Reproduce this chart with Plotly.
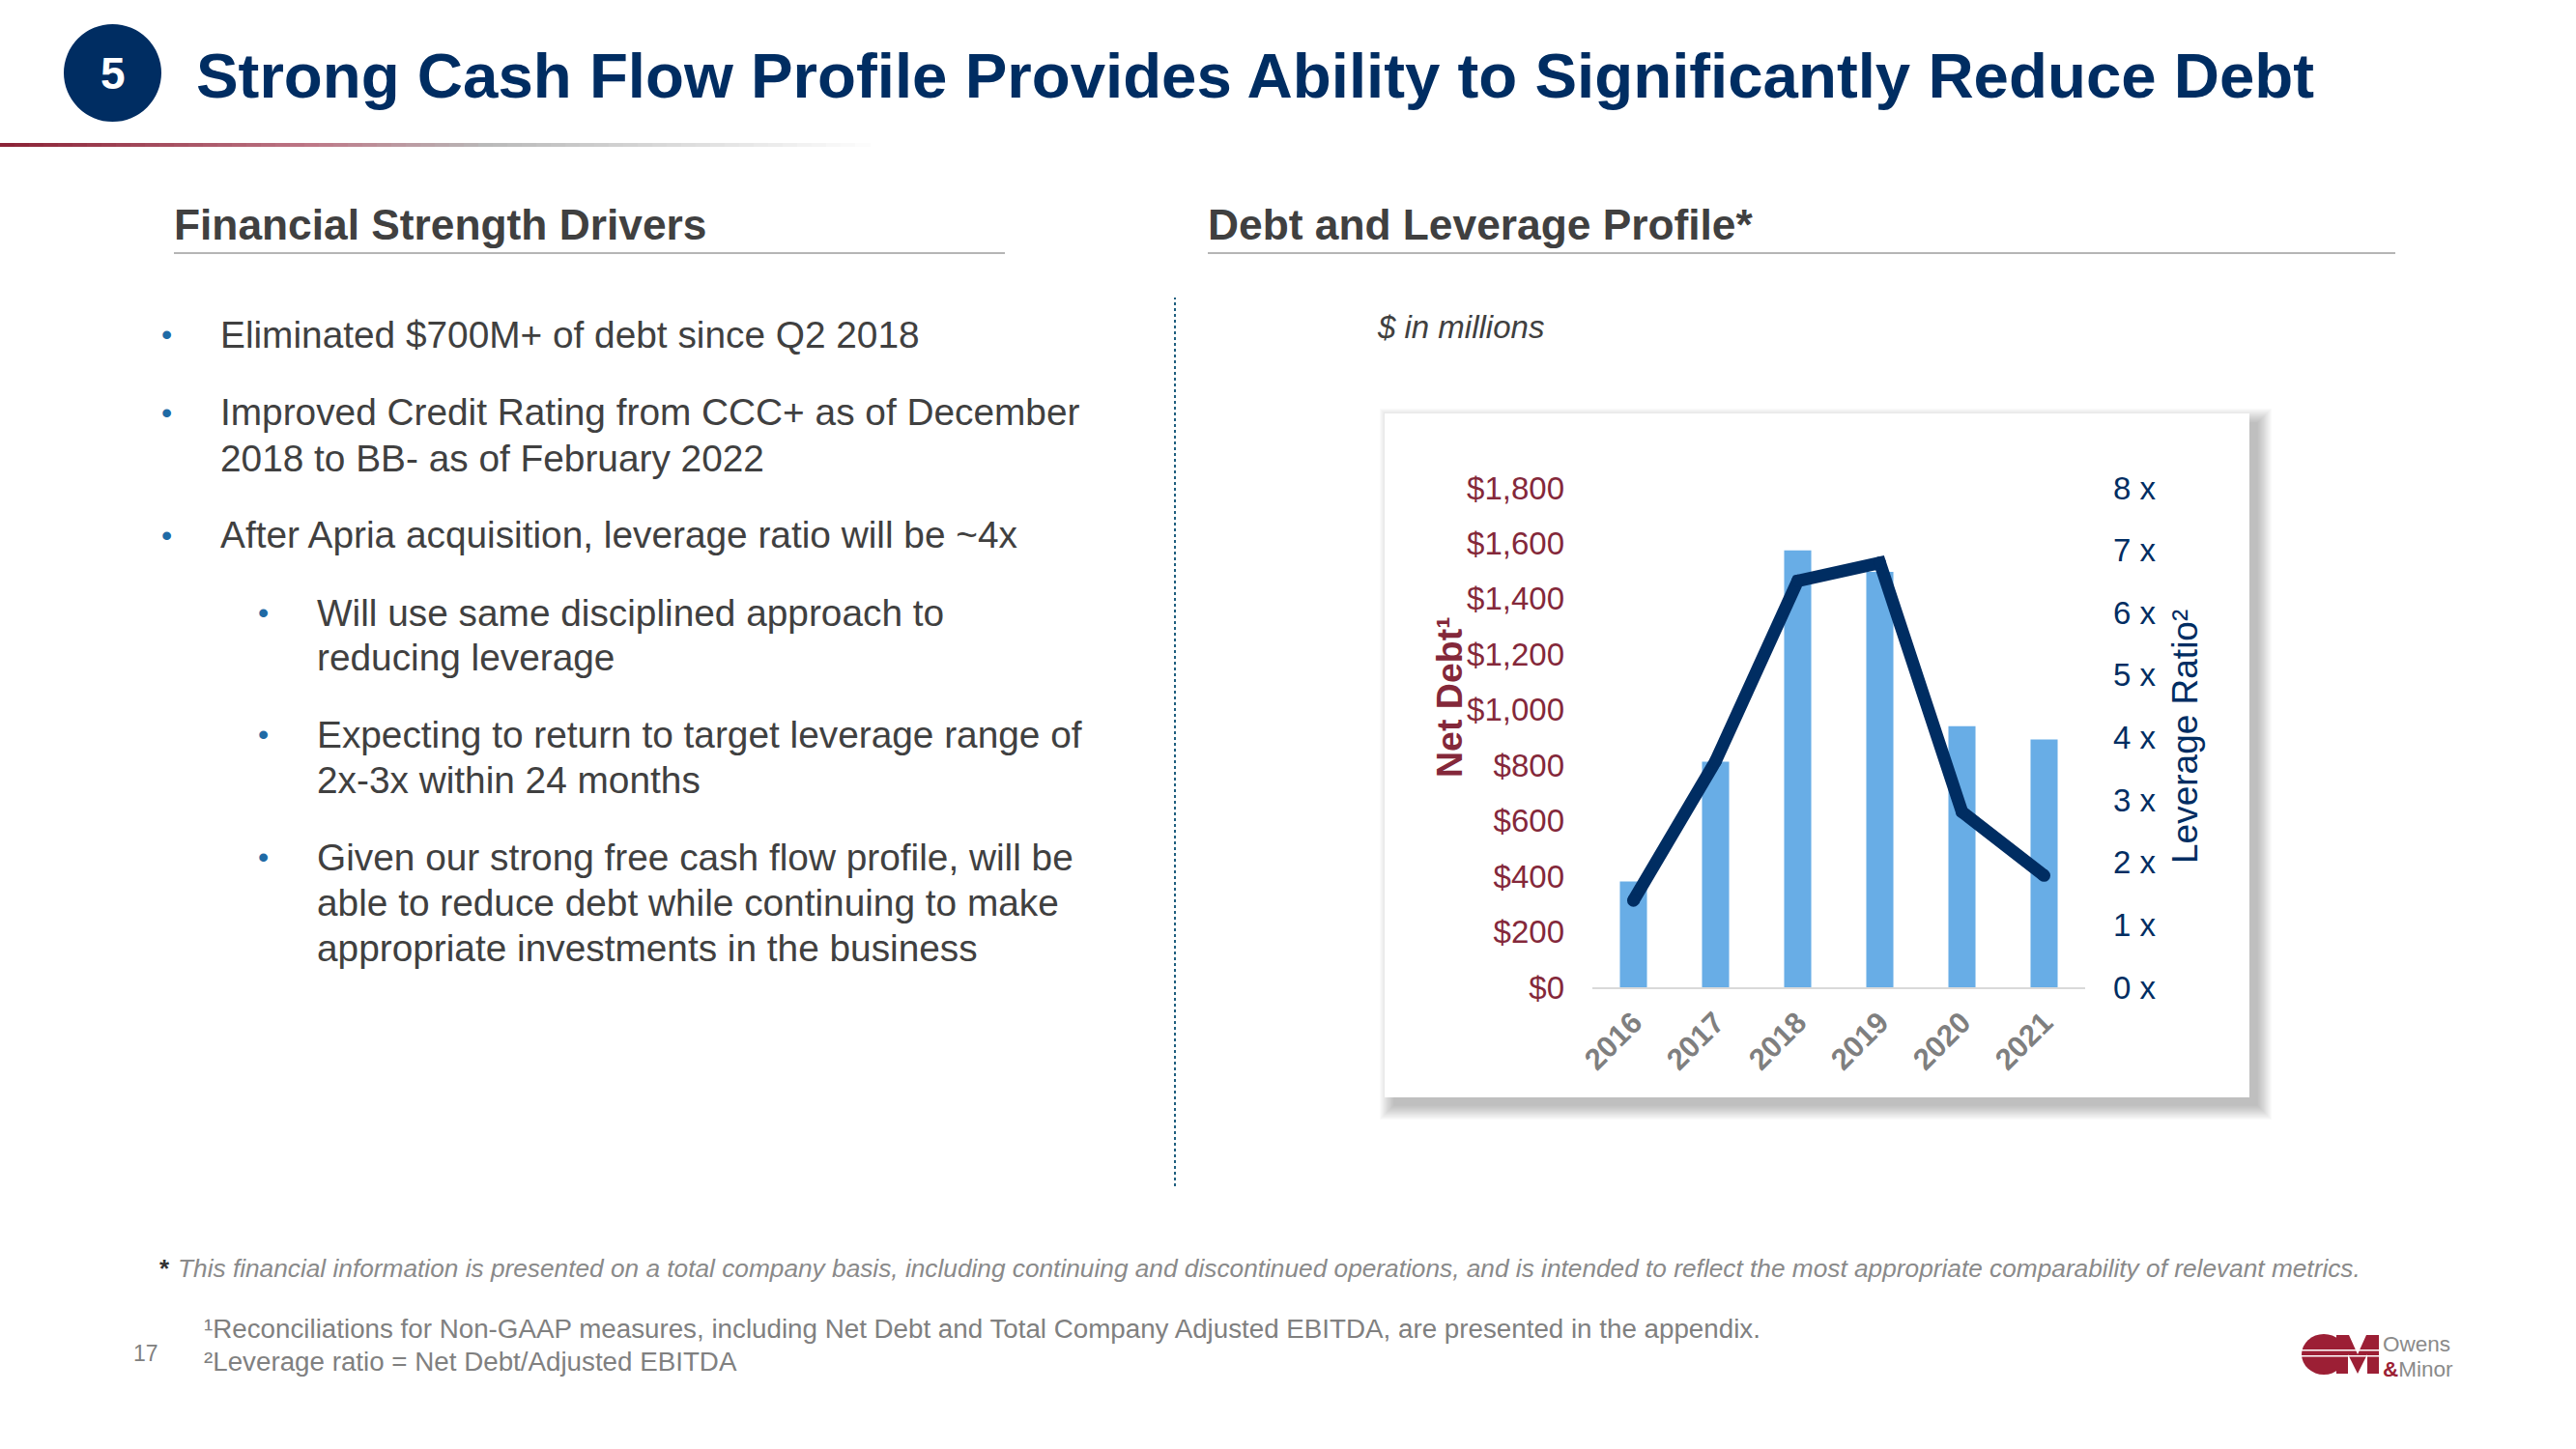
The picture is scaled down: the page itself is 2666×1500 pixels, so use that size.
import plotly.graph_objects as go

W, H = 2666, 1500
years = ["2016", "2017", "2018", "2019", "2020", "2021"]
net_debt = [381, 813, 1575, 1497, 941, 893]
leverage = [1.39, 3.62, 6.51, 6.80, 2.81, 1.79]
debt_ticks = [0, 200, 400, 600, 800, 1000, 1200, 1400, 1600, 1800]
debt_labels = ["$0", "$200", "$400", "$600", "$800", "$1,000", "$1,200", "$1,400", "$1,600", "$1,800"]
lev_ticks = [0, 1, 2, 3, 4, 5, 6, 7, 8]
lev_labels = ["0 x", "1 x", "2 x", "3 x", "4 x", "5 x", "6 x", "7 x", "8 x"]

NAVY = "#002d62"
MAROON = "#84283a"
BLUE = "#68ade6"
BODY = "#404040"
FONT = "Liberation Sans"

def px(x):
    return x / W

def py(y):
    return 1 - y / H

shapes = []
annotations = []

def rect(x0, y0, x1, y1, fill, layer="below"):
    shapes.append(dict(type="rect", xref="paper", yref="paper", x0=px(x0), x1=px(x1),
                       y0=py(y1), y1=py(y0), fillcolor=fill, line_width=0, layer=layer))

def hline(x0, x1, y, color, width=2):
    shapes.append(dict(type="line", xref="paper", yref="paper", x0=px(x0), x1=px(x1),
                       y0=py(y), y1=py(y), line=dict(color=color, width=width), layer="below"))

def text(x, y, s, size, color=BODY, anchor="left", angle=0, bold=False, italic=False):
    if bold:
        s = "<b>" + s + "</b>"
    if italic:
        s = "<i>" + s + "</i>"
    annotations.append(dict(xref="paper", yref="paper", x=px(x), y=py(y), text=s, showarrow=False,
                            xanchor=anchor, yanchor="middle", textangle=angle,
                            font=dict(family=FONT, size=size, color=color), borderpad=0, borderwidth=0))

# header
shapes.append(dict(type="circle", xref="paper", yref="paper", x0=px(66), x1=px(167), y0=py(126), y1=py(25),
                   fillcolor=NAVY, line_width=0, layer="below"))
text(116.5, 76, "5", 46, "white", "center", bold=True)
text(203, 78, "Strong Cash Flow Profile Provides Ability to Significantly Reduce Debt", 65.4, NAVY, bold=True)

# gradient rule below the header
steps = 60
stops = [(0.0, (140, 35, 55)), (0.35, (190, 120, 135)), (0.55, (185, 185, 185)), (1.0, (255, 255, 255))]
for i in range(steps):
    t = i / steps
    for (a, ca), (b, cb) in zip(stops, stops[1:]):
        if a <= t <= b:
            f = (t - a) / (b - a)
            c = tuple(int(ca[k] + (cb[k] - ca[k]) * f) for k in range(3))
            break
    rect(900 * t, 148, 900 * (t + 1 / steps) + 1, 152, f"rgb{c}")

# section headers
text(180, 233, "Financial Strength Drivers", 44.3, BODY, bold=True)
text(1250, 233, "Debt and Leverage Profile*", 44.3, BODY, bold=True)
hline(180, 1040, 262, "#b5b5b5")
hline(1250, 2479, 262, "#b5b5b5")

# dotted divider
shapes.append(dict(type="line", xref="paper", yref="paper", x0=px(1216), x1=px(1216), y0=py(1228), y1=py(308),
                   line=dict(color="#1f5f7f", width=2, dash="dot"), layer="below"))

# left column
BULLET = "#1f6aa5"
lines = [
    (346, 228, 172, "Eliminated $700M+ of debt since Q2 2018", True),
    (427, 228, 172, "Improved Credit Rating from CCC+ as of December", True),
    (474, 228, 172, "2018 to BB- as of February 2022", False),
    (554, 228, 172, "After Apria acquisition, leverage ratio will be ~4x", True),
    (634, 328, 272, "Will use same disciplined approach to", True),
    (681, 328, 272, "reducing leverage", False),
    (760, 328, 272, "Expecting to return to target leverage range of", True),
    (807, 328, 272, "2x-3x within 24 months", False),
    (887, 328, 272, "Given our strong free cash flow profile, will be", True),
    (935, 328, 272, "able to reduce debt while continuing to make", False),
    (981, 328, 272, "appropriate investments in the business", False),
]
for y, x, bx, s, has_bullet in lines:
    text(x, y, s, 38.8, BODY)
    if has_bullet:
        text(bx, y, "•", 32, BULLET, "center")

text(1425, 339, "$ in millions", 33, BODY, italic=True)

# card with a soft shadow: stacked translucent rects, widest and faintest first
for i in range(14):
    g = 14 - i * 1.1
    rect(1433 + 9 - g, 428 + 9 - g, 2328 + 9 + g, 1136 + 9 + g, "rgba(60,60,60,0.028)")
rect(1433, 428, 2328, 1136, "white")

# footnotes
text(165, 1313, "*", 26, "#333333", bold=True)
text(184, 1313, "This financial information is presented on a total company basis, including continuing and "
     "discontinued operations, and is intended to reflect the most appropriate comparability of relevant metrics.",
     26.25, "#8a8a8a", italic=True)
text(211, 1375, "¹Reconciliations for Non-GAAP measures, including Net Debt and Total Company Adjusted EBITDA, "
     "are presented in the appendix.", 27.75, "#808080")
text(211, 1409, "²Leverage ratio = Net Debt/Adjusted EBITDA", 27.75, "#808080")
text(138, 1401, "17", 23, "#808080")

# logo
LOGO = "#9c1f35"
shapes.append(dict(type="circle", xref="paper", yref="paper", x0=px(2382), x1=px(2428), y0=py(1423), y1=py(1381),
                   fillcolor=LOGO, line_width=0, layer="below"))
m0, m1, yt, yb = 2418, 2462, 1382, 1422
path = (f"M {px(m0)} {py(yb)} L {px(m0)} {py(yt)} L {px(m0+13)} {py(yt)} L {px((m0+m1)/2)} {py(yt+20)} "
        f"L {px(m1-13)} {py(yt)} L {px(m1)} {py(yt)} L {px(m1)} {py(yb)} L {px(m1-12)} {py(yb)} L {px(m1-12)} {py(yt+20)} "
        f"L {px((m0+m1)/2)} {py(yb)} L {px(m0+12)} {py(yt+20)} L {px(m0+12)} {py(yb)} Z")
shapes.append(dict(type="path", xref="paper", yref="paper", path=path, fillcolor=LOGO, line_width=0, layer="below"))
for y in [1397, 1403]:
    rect(2382, y, 2462, y + 1.5, "white")
text(2466, 1391, "Owens", 22.5, "#8a8a8a")
text(2466, 1417, '<span style="color:#9c1f35"><b>&amp;</b></span>Minor', 22.5, "#8a8a8a")

fig = go.Figure()
fig.add_trace(go.Bar(x=years, y=net_debt, marker=dict(color=BLUE, line_width=0), yaxis="y", name="Net Debt"))
fig.add_trace(go.Scatter(x=years, y=leverage, mode="lines+markers", yaxis="y2", name="Leverage Ratio",
                         line=dict(color=NAVY, width=13), marker=dict(color=NAVY, size=13)))

fig.update_layout(
    width=W, height=H, autosize=False, margin=dict(l=0, r=0, t=0, b=0),
    paper_bgcolor="white", plot_bgcolor="rgba(0,0,0,0)", showlegend=False, bargap=0.67,
    font=dict(family=FONT),
    xaxis=dict(domain=[px(1648), px(2158)], type="category", tickangle=-45, showgrid=False, showline=True,
               automargin=False, linecolor="#d9d9d9", linewidth=2, ticks="", ticklabelstandoff=4,
               tickfont=dict(family=FONT, size=31, color="#7f7f7f", weight="bold")),
    yaxis=dict(domain=[py(1022), py(505)], range=[0, 1800], tickvals=debt_ticks, ticktext=debt_labels,
               automargin=False, showgrid=False, zeroline=False, showline=False, ticks="", ticklabelstandoff=28,
               tickfont=dict(family=FONT, size=33, color=MAROON)),
    yaxis2=dict(overlaying="y", side="right", anchor="x", range=[0, 8], tickvals=lev_ticks, ticktext=lev_labels,
                automargin=False, showgrid=False, zeroline=False, showline=False, ticks="", ticklabelstandoff=28,
                tickfont=dict(family=FONT, size=33, color=NAVY)),
    shapes=shapes, annotations=annotations,
)
fig.add_annotation(xref="paper", yref="paper", x=px(1500), y=py(721), text="<b>Net Debt¹</b>", textangle=-90,
                   xanchor="center", yanchor="middle", showarrow=False, font=dict(family=FONT, size=37.5, color=MAROON))
fig.add_annotation(xref="paper", yref="paper", x=px(2261), y=py(763), text="Leverage Ratio²", textangle=-90,
                   xanchor="center", yanchor="middle", showarrow=False, font=dict(family=FONT, size=37, color=NAVY))

fig.write_html("out.html", config={"displayModeBar": False}, post_script="document.body.style.margin='0';")
